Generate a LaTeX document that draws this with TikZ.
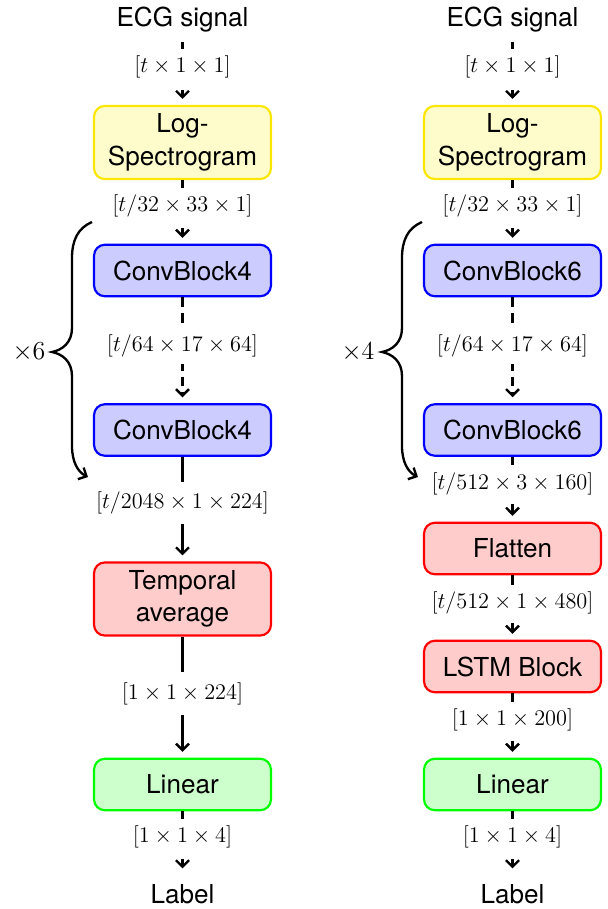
\documentclass[tikz,border=0pt]{standalone}
\usepackage{fix-cm}
\usepackage{fontspec}
\setmainfont{TeX Gyre Heros}
\usetikzlibrary{arrows.meta}
\definecolor{ybord}{RGB}{250,230,0}
\tikzset{
  box/.style={draw, rounded corners=6pt, line width=1.2pt, minimum width=98.3pt,
    minimum height=28.6pt, align=center, inner sep=2pt, font=\fontsize{14.5}{18}\selectfont},
  tall/.style={minimum height=40.6pt},
  ybox/.style={box, draw=ybord, fill=yellow!20},
  bbox/.style={box, draw=blue, fill=blue!20},
  rbox/.style={box, draw=red, fill=red!20},
  gbox/.style={box, draw=green, fill=green!20},
  term/.style={font=\fontsize{14.5}{18}\selectfont, inner sep=3pt},
  lab/.style={fill=white, inner xsep=1pt, inner ysep=4pt, font=\fontsize{12.4}{15}\selectfont},
  conn/.style={line width=1.3pt, -{Straight Barb[length=3.6pt,width=7.2pt]}, shorten >=3.3pt},
  dconn/.style={conn, dash pattern=on 5.5pt off 3.3pt},
  brc/.style={line width=1.3pt, -{Straight Barb[length=3.6pt,width=7.2pt]}},
  rep/.style={font=\fontsize{14.4}{17}\selectfont, inner sep=0pt},
}
\begin{document}
\begin{tikzpicture}[x=0.5556pt,y=-0.5556pt]
\useasboundingbox (0,0) rectangle (608,909);

% ---------- left column ----------
\node[term, anchor=base] (ecgL) at (182.5,26.5) {ECG signal};
\node[ybox, tall] (logL) at (182.5,142.5) {Log-\\Spectrogram};
\node[bbox] (c1L) at (182.5,270.5) {ConvBlock4};
\node[bbox] (c2L) at (182.5,430) {ConvBlock4};
\node[rbox, tall] (tavL) at (182.5,599) {Temporal\\average};
\node[gbox] (linL) at (182.5,784.5) {Linear};
\node[term, anchor=base] (labL) at (182.5,903) {Label};

\draw[dconn, shorten <=2.5pt] (ecgL) -- node[lab, pos=0.44] {$[t \times 1 \times 1]$} (logL);
\draw[dconn] (logL) -- node[lab, pos=0.41] {$[t/32 \times 33 \times 1]$} (c1L);
\draw[dconn] (c1L) -- node[lab, pos=0.46] {$[t/64 \times 17 \times 64]$} (c2L);
\draw[conn] (c2L) -- node[lab, pos=0.44, inner ysep=5.5pt] {$[t/2048 \times 1 \times 224]$} (tavL);
\draw[conn] (tavL) -- node[lab, pos=0.47, inner ysep=5.5pt] {$[1 \times 1 \times 224]$} (linL);
\draw[dconn, shorten >=5.5pt] (linL) -- node[lab, pos=0.39] {$[1 \times 1 \times 4]$} (labL);

\node[rep] (x6) at (29,352) {$\times 6$};
\draw[brc] (92,222) .. controls (78,228) and (72,240) .. (72,258) -- (72,328)
  .. controls (72,343) and (62,350) .. (52,352)
  .. controls (62,354) and (72,361) .. (72,376) -- (72,446)
  .. controls (72,462) and (78,472) .. (88,477);

% ---------- right column ----------
\node[term, anchor=base] (ecgR) at (512.5,26.5) {ECG signal};
\node[ybox, tall] (logR) at (512.5,142.5) {Log-\\Spectrogram};
\node[bbox] (c1R) at (512.5,270.5) {ConvBlock6};
\node[bbox] (c2R) at (512.5,430) {ConvBlock6};
\node[rbox] (flR) at (512.5,548.5) {Flatten};
\node[rbox] (lsR) at (512.5,666.5) {LSTM Block};
\node[gbox] (linR) at (512.5,784.5) {Linear};
\node[term, anchor=base] (labR) at (512.5,903) {Label};

\draw[dconn, shorten <=2.5pt] (ecgR) -- node[lab, pos=0.44] {$[t \times 1 \times 1]$} (logR);
\draw[dconn] (logR) -- node[lab, pos=0.41] {$[t/32 \times 33 \times 1]$} (c1R);
\draw[dconn] (c1R) -- node[lab, pos=0.46] {$[t/64 \times 17 \times 64]$} (c2R);
\draw[dconn] (c2R) -- node[lab, pos=0.415] {$[t/512 \times 3 \times 160]$} (flR);
\draw[dconn] (flR) -- node[lab, pos=0.43] {$[t/512 \times 1 \times 480]$} (lsR);
\draw[dconn] (lsR) -- node[lab, pos=0.42] {$[1 \times 1 \times 200]$} (linR);
\draw[dconn, shorten >=5.5pt] (linR) -- node[lab, pos=0.39] {$[1 \times 1 \times 4]$} (labR);

\node[rep] (x4) at (358,352) {$\times 4$};
\begin{scope}[shift={(330,0)}]
\draw[brc] (92,222) .. controls (78,228) and (72,240) .. (72,258) -- (72,328)
  .. controls (72,343) and (62,350) .. (52,352)
  .. controls (62,354) and (72,361) .. (72,376) -- (72,446)
  .. controls (72,462) and (78,472) .. (88,477);
\end{scope}
\end{tikzpicture}
\end{document}
